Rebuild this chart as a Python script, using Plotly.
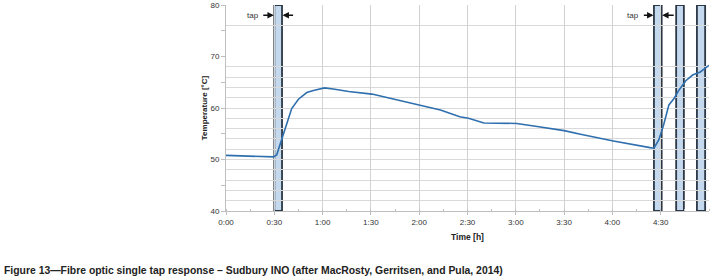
import plotly.graph_objects as go

# ---- data ----
time_h = [0.0, 0.25, 0.49, 0.525, 0.594, 0.68, 0.75, 0.836, 0.905, 1.02, 1.11, 1.27,
          1.51, 1.80, 2.01, 2.22, 2.42, 2.51, 2.67, 3.01, 3.22, 3.50, 3.67, 3.77,
          4.01, 4.39, 4.43, 4.48, 4.53, 4.585, 4.64, 4.69, 4.76, 4.83, 4.91, 5.0]
temp_c = [50.8, 50.7, 50.5, 50.9, 54.8, 59.9, 61.7, 63.0, 63.4, 63.9, 63.7, 63.2,
          62.7, 61.4, 60.6, 59.6, 58.3, 58.0, 57.1, 57.0, 56.4, 55.6, 54.9, 54.5,
          53.6, 52.3, 52.2, 53.8, 56.7, 60.6, 61.9, 63.5, 65.3, 66.4, 67.0, 68.3]

tap_start = [0.50, 4.43, 4.66, 4.875]
tap_end = [0.58, 4.51, 4.74, 4.96]

x_tick_vals = [0, 0.5, 1.0, 1.5, 2.0, 2.5, 3.0, 3.5, 4.0, 4.5]
x_tick_text = ["0:00", "0:30", "1:00", "1:30", "2:00", "2:30", "3:00", "3:30", "4:00", "4:30"]
y_tick_vals = [40, 45, 50, 55, 60, 65, 70, 75, 80]
y_tick_text = ["40", "", "50", "", "60", "", "70", "", "80"]
y_grid_vals = [42, 44, 46, 48, 50, 52, 54, 56, 58, 60, 62, 64, 66, 68, 76, 80]

# tap annotations: label position, arrow heads and tails (hours, degC)
tap_label_x = [0.28, 4.21]
tap_arrow_in_tail = [0.37, 4.31]
tap_arrow_in_head = [0.495, 4.425]
tap_arrow_out_tail = [0.71, 4.65]
tap_arrow_out_head = [0.585, 4.515]
tap_y = 78

caption = "Figure 13\u2014Fibre optic single tap response \u2013 Sudbury INO (after MacRosty, Gerritsen, and Pula, 2014)"

W, H = 714, 280
ML, MR, MT, MB = 226, 5, 5, 69
pw = W - ML - MR
ph = H - MT - MB

font_small = "Liberation Sans Narrow, Arial Narrow, Liberation Sans, sans-serif"

fig = go.Figure()

shapes = []
for s, e in zip(tap_start, tap_end):
    shapes.append(dict(type="rect", xref="x", yref="y", x0=s, x1=e, y0=40, y1=80,
                       fillcolor="#c5d9ee", line=dict(color="#2c3846", width=1.8),
                       layer="below"))

fig.add_trace(go.Scatter(x=time_h, y=temp_c, mode="lines",
                         line=dict(color="#2f6fae", width=1.6), showlegend=False,
                         hoverinfo="skip"))

annotations = []
for i in range(len(tap_label_x)):
    annotations.append(dict(x=tap_label_x[i], y=tap_y, xref="x", yref="y", text="tap",
                            showarrow=False, font=dict(size=8, color="#333", family=font_small)))
    annotations.append(dict(x=tap_arrow_in_head[i], y=tap_y, ax=tap_arrow_in_tail[i], ay=tap_y,
                            xref="x", yref="y", axref="x", ayref="y", text="", showarrow=True,
                            arrowhead=2, arrowsize=0.8, arrowwidth=1.6, arrowcolor="#111"))
    annotations.append(dict(x=tap_arrow_out_head[i], y=tap_y, ax=tap_arrow_out_tail[i], ay=tap_y,
                            xref="x", yref="y", axref="x", ayref="y", text="", showarrow=True,
                            arrowhead=2, arrowsize=0.8, arrowwidth=1.6, arrowcolor="#111"))

cap_px_x, cap_px_y = 2, 270
annotations.append(dict(x=(cap_px_x - ML) / pw, y=(H - MB - cap_px_y) / ph,
                        xref="paper", yref="paper", xanchor="left", yanchor="middle",
                        text="<b>" + caption + "</b>", showarrow=False,
                        font=dict(size=10.4, color="#222", family=font_small)))

fig.update_layout(
    width=W, height=H,
    margin=dict(l=ML, r=MR, t=MT, b=MB, autoexpand=False),
    paper_bgcolor="white", plot_bgcolor="white",
    shapes=shapes, annotations=annotations,
    xaxis=dict(range=[0, 5], tickmode="array", tickvals=x_tick_vals, ticktext=x_tick_text,
               automargin=False,
               showgrid=True, gridcolor="#d2d2d2", gridwidth=1,
               showline=True, linecolor="#bfbfbf", linewidth=1,
               ticks="outside", ticklen=3, tickcolor="#bfbfbf",
               minor=dict(dtick=0.25, tick0=0, ticks="inside", ticklen=2, tickcolor="#bfbfbf", showgrid=False),
               tickfont=dict(size=8, color="#333", family=font_small),
               title=dict(text="<b>Time [h]</b>", font=dict(size=8.5, color="#222", family=font_small), standoff=8),
               zeroline=False),
    yaxis=dict(range=[40, 80], tickmode="array", tickvals=y_tick_vals, ticktext=y_tick_text,
               automargin=False,
               showgrid=False, showline=True, linecolor="#bfbfbf", linewidth=1,
               ticks="outside", ticklen=4, tickcolor="#bfbfbf",
               minor=dict(tickmode="array", tickvals=y_grid_vals, showgrid=True,
                          gridcolor="#d9d9d9", gridwidth=1, ticks=""),
               tickfont=dict(size=8, color="#333", family=font_small),
               title=dict(text="<b>Temperature [°C]</b>", font=dict(size=8, color="#222", family=font_small), standoff=1),
               zeroline=False),
)

fig.write_html("out.html", config={"displayModeBar": False},
               post_script="document.body.style.margin='0';document.body.style.padding='0';")
